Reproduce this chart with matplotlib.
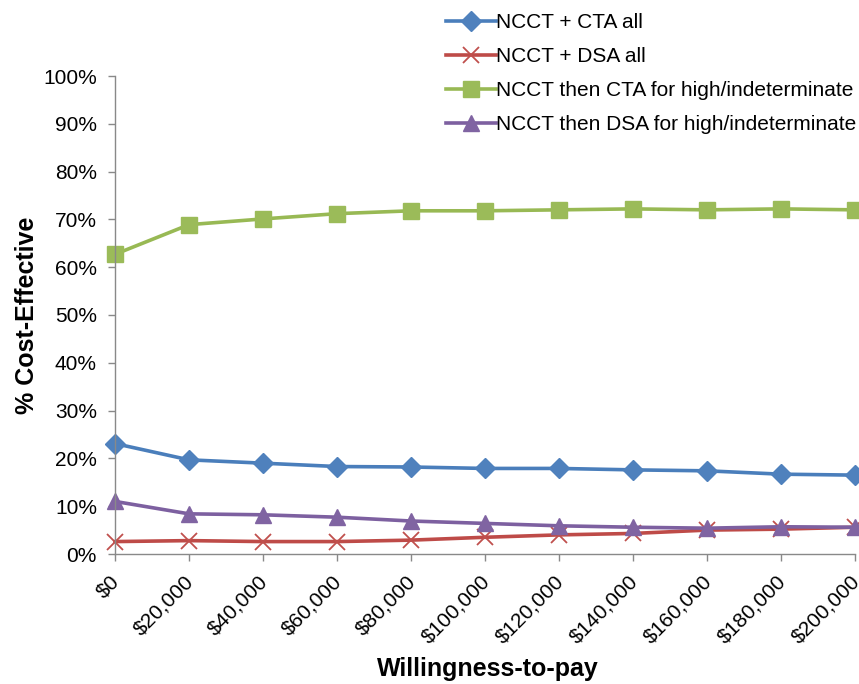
import matplotlib.pyplot as plt
import matplotlib.transforms as mtransforms
from matplotlib.ticker import FuncFormatter

plt.rcParams['font.family'] = ['Liberation Sans', 'DejaVu Sans']

wtp = [0, 20000, 40000, 60000, 80000, 100000, 120000, 140000, 160000, 180000, 200000]

cta_all = [23.1, 19.7, 19.0, 18.3, 18.2, 17.9, 17.9, 17.6, 17.4, 16.7, 16.5]
dsa_all = [2.6, 2.8, 2.6, 2.6, 2.9, 3.5, 4.0, 4.3, 5.0, 5.2, 5.6]
cta_high = [62.7, 68.9, 70.1, 71.2, 71.8, 71.8, 72.0, 72.2, 72.0, 72.2, 72.0]
dsa_high = [11.0, 8.4, 8.2, 7.7, 6.9, 6.4, 5.9, 5.6, 5.4, 5.7, 5.6]

labels = ["NCCT + CTA all", "NCCT + DSA all",
          "NCCT then CTA for high/indeterminate",
          "NCCT then DSA for high/indeterminate"]

fig = plt.figure(figsize=(8.59, 6.84), dpi=100)
ax = fig.add_axes([115 / 859, 1 - 554 / 684, 740 / 859, 478 / 684])

ax.plot(wtp, cta_all, color='#4A7EBB', lw=2.6, marker='D', ms=10,
        mfc='#4F81BD', mec='#4F81BD', clip_on=False, label=labels[0])
ax.plot(wtp, dsa_all, color='#BE4B48', lw=2.6, marker='x', ms=11, mew=1.3,
        mec='#C0504D', clip_on=False, label=labels[1])
ax.plot(wtp, cta_high, color='#98B954', lw=2.6, marker='s', ms=11,
        mfc='#9BBB59', mec='#9BBB59', clip_on=False, label=labels[2])
ax.plot(wtp, dsa_high, color='#7D60A0', lw=2.6, marker='^', ms=11,
        mfc='#8064A2', mec='#8064A2', clip_on=False, label=labels[3])

ax.set_xlim(0, 200000)
ax.set_ylim(0, 100)
ax.set_xticks(wtp)
ax.set_yticks(range(0, 101, 10))
ax.xaxis.set_major_formatter(FuncFormatter(lambda v, p: "${:,.0f}".format(v)))
ax.yaxis.set_major_formatter(FuncFormatter(lambda v, p: "{:.0f}%".format(v)))

for side in ['top', 'right']:
    ax.spines[side].set_visible(False)
for side in ['left', 'bottom']:
    ax.spines[side].set_color('#898989')
    ax.spines[side].set_linewidth(1.0)

ax.tick_params(axis='both', colors='#898989', labelcolor='black',
               labelsize=15, length=5, width=1.0)
ax.tick_params(axis='x', pad=8)
ax.tick_params(axis='y', pad=8)

# rotated dollar labels, nudged a little left so the last one fits
shift = mtransforms.ScaledTranslation(-5 / 100, 0, fig.dpi_scale_trans)
for lbl in ax.get_xticklabels():
    lbl.set_rotation(45)
    lbl.set_ha('right')
    lbl.set_va('top')
    lbl.set_rotation_mode('anchor')
    lbl.set_transform(lbl.get_transform() + shift)

ax.set_ylabel('% Cost-Effective', fontsize=18, fontweight='bold', labelpad=3)
ax.set_xlabel('Willingness-to-pay', fontsize=18, fontweight='bold')
ax.xaxis.set_label_coords(0.504, -0.216)

fig.legend(loc='upper left', bbox_to_anchor=(438 / 859, 1 - 5 / 684),
           frameon=False, fontsize=15, handlelength=2.4, handletextpad=0.0,
           labelspacing=0.72, borderaxespad=0.0)

fig.savefig('out.png', dpi=100)
